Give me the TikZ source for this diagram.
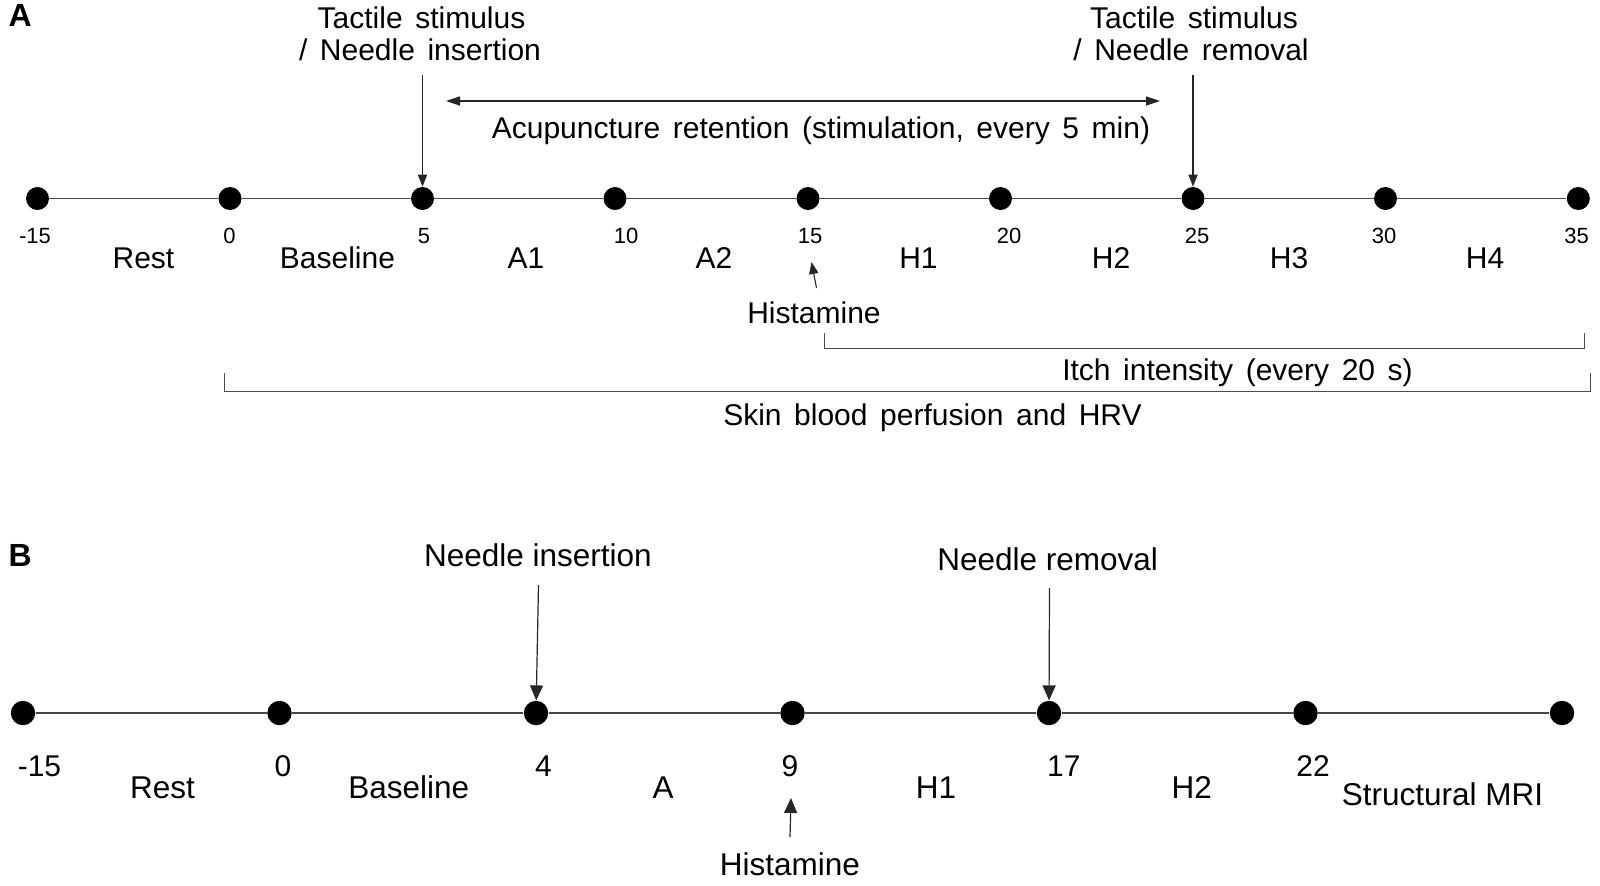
\documentclass[tikz,border=0pt]{standalone}
\usepackage{fontspec}
\setmainfont{Liberation Sans}
\usetikzlibrary{arrows.meta}
\newcommand{\myfontA}{\fontsize{15}{18}\selectfont\spaceskip 0.42em\relax}
\tikzset{
  dotA/.style={circle, fill=black, draw=none, inner sep=0pt, minimum size=11.5pt},
  dotB/.style={circle, fill=black, draw=none, inner sep=0pt, minimum size=12.2pt},
  tline/.style={draw=black!72, line width=0.8pt},
  arrA/.style={draw=black!85, line width=0.55pt, -{Triangle[length=6pt,width=4.6pt]}},
  arrB/.style={draw=black!85, line width=0.6pt, -{Triangle[length=7.5pt,width=6.5pt]}},
  darr/.style={draw=black!85, line width=0.55pt, {Triangle[length=7pt,width=4.6pt]}-{Triangle[length=7pt,width=4.6pt]}},
  brk/.style={draw=black!70, line width=0.5pt},
  txA/.style={inner sep=0pt, anchor=base, font=\myfontA},
  numA/.style={inner sep=0pt, anchor=base, font=\fontsize{11}{13}\selectfont},
  txB/.style={inner sep=0pt, anchor=base, font=\fontsize{15.75}{19}\selectfont},
  numB/.style={inner sep=0pt, anchor=base, font=\fontsize{15}{18}\selectfont},
  panel/.style={inner sep=0pt, anchor=base west, font=\fontsize{16}{19}\selectfont\bfseries}
}
\begin{document}
\begin{tikzpicture}[x=0.5pt,y=-0.5pt]
\useasboundingbox (0,0) rectangle (1600,885);
% ---------------- Panel A ----------------
\node[panel] (pA) at (8.3,26.7) {A};
% dots
\node[dotA] (a1) at (37.5,198.5) {};
\node[dotA] (a2) at (230,198.5) {};
\node[dotA] (a3) at (422.5,198.5) {};
\node[dotA] (a4) at (615,198.5) {};
\node[dotA] (a5) at (808,198.5) {};
\node[dotA] (a6) at (1000.5,198.5) {};
\node[dotA] (a7) at (1193,198.5) {};
\node[dotA] (a8) at (1385.5,198.5) {};
\node[dotA] (a9) at (1578.3,198.5) {};
\draw[tline] (a1) -- (a2) -- (a3) -- (a4) -- (a5) -- (a6) -- (a7) -- (a8) -- (a9);
% tick numbers
\node[numA] (na1) at (35,243.5) {-15};
\node[numA] (na2) at (229.6,243.5) {0};
\node[numA] (na3) at (424,243.5) {5};
\node[numA] (na4) at (626,243.5) {10};
\node[numA] (na5) at (810,243.5) {15};
\node[numA] (na6) at (1009,243.5) {20};
\node[numA] (na7) at (1197,243.5) {25};
\node[numA] (na8) at (1384,243.5) {30};
\node[numA] (na9) at (1576.5,243.5) {35};
% phase labels
\node[txA] (pr) at (143.5,268) {Rest};
\node[txA] (pb) at (337.5,268) {Baseline};
\node[txA] (pa1) at (526,268) {A1};
\node[txA] (pa2) at (714,268) {A2};
\node[txA] (ph1) at (918.5,268) {H1};
\node[txA] (ph2) at (1111,268) {H2};
\node[txA] (ph3) at (1289,268) {H3};
\node[txA] (ph4) at (1485,268) {H4};
% tactile stimulus / needle insertion
\node[txA] (t1a) at (421.5,28.5) {Tactile stimulus};
\node[txA] (t1b) at (420,60) {/ Needle insertion};
\coordinate (t1s) at (422.5,75);
\draw[arrA] (t1s) -- (a3);
% tactile stimulus / needle removal
\node[txA] (t2a) at (1194,28.5) {Tactile stimulus};
\node[txA] (t2b) at (1191,60) {/ Needle removal};
\coordinate (t2s) at (1193,75);
\draw[arrA] (t2s) -- (a7);
% acupuncture retention
\coordinate (rl) at (446,101);
\coordinate (rr) at (1160,101);
\draw[darr] (rl) -- (rr);
\node[txA] (acu) at (821,138.5) {Acupuncture retention (stimulation, every 5 min)};
% histamine A
\node[txA] (hisA) at (814,323.5) {Histamine};
\coordinate (hAt) at (816.5,288);
\coordinate (hAh) at (811.5,262);
\draw[arrA] (hAt) -- (hAh);
% itch bracket
\coordinate (itL) at (824.5,333);
\coordinate (itR) at (1584.5,333);
\draw[brk] (itL) -- ++(0,15) -| (itR);
\node[txA] (itch) at (1237.5,380) {Itch intensity (every 20 s)};
% skin bracket
\coordinate (skL) at (224.5,373);
\coordinate (skR) at (1590,373);
\draw[brk] (skL) -- ++(0,18) -| (skR);
\node[txA] (skin) at (932.5,425) {Skin blood perfusion and HRV};
% ---------------- Panel B ----------------
\node[panel] (pB) at (8.3,566.7) {B};
\node[dotB] (b1) at (23,713) {};
\node[dotB] (b2) at (279.5,713) {};
\node[dotB] (b3) at (536,713) {};
\node[dotB] (b4) at (792.5,713) {};
\node[dotB] (b5) at (1049,713) {};
\node[dotB] (b6) at (1305.5,713) {};
\node[dotB] (b7) at (1562,713) {};
\draw[tline] (b1) -- (b2) -- (b3) -- (b4) -- (b5) -- (b6) -- (b7);
% numbers
\node[numB] (nb1) at (39.5,776) {-15};
\node[numB] (nb2) at (283,776) {0};
\node[numB] (nb3) at (543.4,776) {4};
\node[numB] (nb4) at (790,776) {9};
\node[numB] (nb5) at (1063.8,776) {17};
\node[numB] (nb6) at (1313,776) {22};
% phases
\node[txB] (qr) at (162.6,798) {Rest};
\node[txB] (qb) at (408.7,798) {Baseline};
\node[txB] (qa) at (663,798) {A};
\node[txB] (qh1) at (936,798) {H1};
\node[txB] (qh2) at (1191.7,798) {H2};
\node[txB] (qs) at (1442.5,805) {Structural MRI};
% needle insertion / removal
\node[txB] (ni) at (538,566.5) {Needle insertion};
\coordinate (nis) at (538.5,585);
\draw[arrB] (nis) -- (b3);
\node[txB] (nr) at (1047.7,570) {Needle removal};
\coordinate (nrs) at (1049.5,588);
\draw[arrB] (nrs) -- (b5);
% histamine B
\node[txB] (hisB) at (790,875) {Histamine};
\coordinate (hBt) at (790,837);
\coordinate (hBh) at (791,798);
\draw[arrB] (hBt) -- (hBh);
\end{tikzpicture}
\end{document}
